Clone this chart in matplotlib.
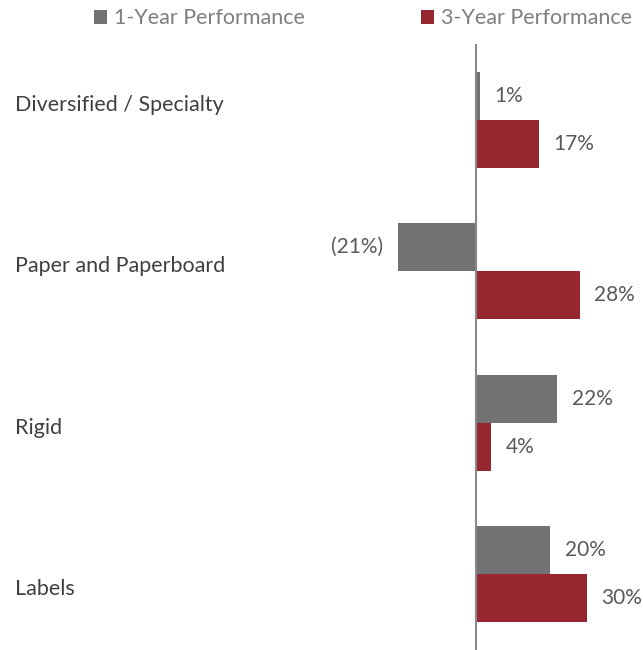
import numpy as np
import matplotlib.pyplot as plt

categories = ["Diversified / Specialty", "Paper and Paperboard", "Rigid", "Labels"]
one_year = [1, -21, 22, 20]
three_year = [17, 28, 4, 30]
series_names = ["1-Year Performance", "3-Year Performance"]

gray = "#717271"
red = "#96262f"
fs = 15.5

plt.rcParams['font.family'] = ['Lato', 'DejaVu Sans']

fig = plt.figure(figsize=(6.43, 6.5), dpi=100)
ax = fig.add_axes([0, 0, 1, 606 / 650])

y = np.arange(len(categories))
h = 0.316
b1 = ax.barh(y - h / 2, one_year, height=h, color=gray, label=series_names[0])
b2 = ax.barh(y + h / 2, three_year, height=h, color=red, label=series_names[1])

px_per = 3.7
ax.set_xlim(-476 / px_per, (643 - 476) / px_per)
ax.set_ylim(len(categories) - 0.5, -0.5)
ax.axvline(0, color="#898989", lw=1.5)

def fmt(v):
    return f"({abs(v)}%)" if v < 0 else f"{v}%"

for bars, vals in [(b1, one_year), (b2, three_year)]:
    for bar, v in zip(bars, vals):
        yc = bar.get_y() + bar.get_height() / 2
        off = 10.5 if v >= 0 else -11
        ax.annotate(fmt(v), (v, yc), xytext=(off, 0), textcoords="offset points",
                    ha="left" if v >= 0 else "right", va="center",
                    fontsize=15, color="#595959")

# category labels sit slightly spread out compared with the bar groups
mid = (len(categories) - 1) / 2
label_y = mid + (y - mid) * 1.064
for yi, c in zip(label_y, categories):
    ax.text(15 / 643, yi, c, transform=ax.get_yaxis_transform(), ha="left",
            va="center", fontsize=fs, color="#404040")

for s in ax.spines.values():
    s.set_visible(False)
ax.set_xticks([])
ax.set_yticks([])

leg = fig.legend(handles=[b1, b2], loc="center left", bbox_to_anchor=(94 / 643, 1 - 18.5 / 650),
                 ncol=2, frameon=False, fontsize=fs, handlelength=0.6,
                 handleheight=0.6, handletextpad=0.33, columnspacing=5.4,
                 borderpad=0, borderaxespad=0)
for t in leg.get_texts():
    t.set_color("#7f7f7f")

fig.savefig("out.png", dpi=100)
